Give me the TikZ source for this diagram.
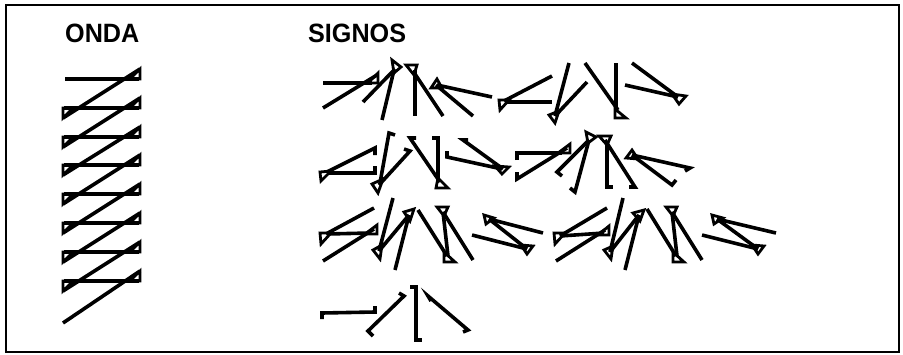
\documentclass[tikz,border=0pt]{standalone}
\usepackage{fontspec}
\setmainfont{Liberation Sans}
\tikzset{
  ln/.style={line width=3.6pt, line join=miter},
  tri/.style={line width=2.8pt, line join=miter},
  lbl/.style={anchor=base west, inner sep=0pt, font=\bfseries\fontsize{26.5}{27}\selectfont, xscale=0.95},
}
\newcommand{\tri}[3]{\draw[tri] #1 -- #2 -- #3 -- cycle;}
\begin{document}
\begin{tikzpicture}[x=1pt,y=-1pt]
\useasboundingbox (0,0) rectangle (903,354);
\draw[line width=2pt] (6,5) rectangle (899,352);
\node[lbl] (onda) at (65,42) {ONDA};
\node[lbl] (signos) at (308,42) {SIGNOS};
% ---------------- ONDA ----------------
\draw[ln] (65,79) -- (139,79);
\tri{(140,69)}{(140,79)}{(130,79)}
\foreach \y in {108,137,165,194,223,252,281}{
  \draw[ln] (64,\y) -- (139,\y);
  \tri{(63,\y)}{(73,\y)}{(63,\y+10)}
  \tri{(140,\y-10)}{(140,\y)}{(130,\y)}
}
\foreach \a/\b in {79/108,108/137,137/165,165/194,194/223,223/252,252/281}{
  \draw[ln] (140,\a-10) -- (63,\b+10);
}
\draw[ln] (140,271) -- (63,323);
% ---------------- Row 1 ----------------
% A+B
\draw[ln] (323,83) -- (372,83);
\tri{(378,73)}{(378,83)}{(368,83)}
\draw[ln] (377,75) -- (323,108);
% C D
\tri{(392,60)}{(401,67)}{(394,73)}
\draw[ln] (395,69) -- (363,102);
\draw[ln] (394,70) -- (382,120);
% E
\tri{(406,65)}{(417,65)}{(414,75)}
\draw[ln] (415,70) -- (415,116);
\draw[ln] (413,71) -- (443,116);
% F
\tri{(437,79)}{(431,88)}{(442,88)}
\draw[ln] (437,85) -- (492,97);
\draw[ln] (436,85) -- (473,116);
% G
\tri{(499,100)}{(509,100)}{(500,110)}
\draw[ln] (506,102) -- (552,102);
\draw[ln] (504,101) -- (552,76);
% H
\tri{(549,115)}{(559,111)}{(555,123)}
\draw[ln] (555,116) -- (587,82);
\draw[ln] (555,116) -- (569,63);
% I
\tri{(615,109)}{(615,118)}{(626,118)}
\draw[ln] (616,63) -- (616,112);
\draw[ln] (585,63) -- (618,110);
% J
\tri{(672,94)}{(686,96)}{(679,104)}
\draw[ln] (625,85) -- (678,97);
\draw[ln] (632,63) -- (678,97);
% ---------------- Row 2 ----------------
% K
\tri{(320,172)}{(331,171)}{(321,181)}
\draw[ln] (327,173) -- (375,173) -- (375,166);
\draw[ln] (327,172) -- (375,148) -- (375,155);
% L
\draw[ln] (395,135) -- (389,133) -- (380,183);
\tri{(372,184)}{(383,179)}{(378,193)}
\draw[ln] (379,185) -- (410,151) -- (404,149);
% M
\draw[ln] (416,138) -- (410,138) -- (440,182);
\draw[ln] (432,138) -- (438,138) -- (438,182);
\tri{(438,178)}{(436,188)}{(448,188)}
% N
\draw[ln] (447,151) -- (447,157) -- (502,169);
\draw[ln] (468,140) -- (463,140) -- (503,169);
\tri{(495,166)}{(509,167)}{(502,174)}
% O
\draw[ln] (517,160) -- (517,153) -- (562,153);
\tri{(570,144)}{(570,153)}{(558,153)}
\draw[ln] (567,148) -- (517,179) -- (517,172);
% P
\tri{(586,132)}{(596,137)}{(588,143)}
\draw[ln] (589,140) -- (557,172) -- (562,176);
\draw[ln] (589,140) -- (575,192) -- (570,188);
% Q
\tri{(599,136)}{(611,136)}{(607,145)}
\draw[ln] (607,141) -- (607,187) -- (613,187);
\draw[ln] (605,140) -- (635,187) -- (629,187);
% R
\tri{(632,150)}{(626,158)}{(638,159)}
\draw[ln] (632,155) -- (690,168) -- (685,171);
\draw[ln] (632,155) -- (672,185) -- (676,180);
% ---------------- Row 3 ----------------
% S
\tri{(320,233)}{(331,233)}{(321,244)}
\tri{(377,225)}{(377,234)}{(365,234)}
\draw[ln] (327,234) -- (370,233);
\draw[ln] (326,234) -- (374,208);
\draw[ln] (374,229) -- (323,261);
% T
\tri{(373,250)}{(382,245)}{(380,259)}
\tri{(404,212)}{(414,209)}{(410,221)}
\draw[ln] (379,251) -- (393,198);
\draw[ln] (379,251) -- (409,215);
\draw[ln] (409,215) -- (395,270);
% U
\tri{(437,207)}{(448,207)}{(444,216)}
\tri{(444,252)}{(444,262)}{(455,262)}
\draw[ln] (443,212) -- (448,256);
\draw[ln] (443,212) -- (473,260);
\draw[ln] (447,256) -- (418,210);
% V
\tri{(484,215)}{(494,218)}{(486,224)}
\tri{(521,245)}{(533,246)}{(527,254)}
\draw[ln] (489,219) -- (527,249);
\draw[ln] (489,219) -- (543,233);
\draw[ln] (527,249) -- (472,235);
% W
\tri{(554,233)}{(565,233)}{(555,244)}
\tri{(609,226)}{(609,235)}{(598,235)}
\draw[ln] (560,236) -- (604,233);
\draw[ln] (560,236) -- (607,208);
\draw[ln] (605,230) -- (556,261);
% X
\tri{(604,250)}{(613,246)}{(611,259)}
\tri{(633,213)}{(644,210)}{(640,221)}
\draw[ln] (610,252) -- (623,198);
\draw[ln] (610,252) -- (639,215);
\draw[ln] (639,215) -- (625,270);
% Y
\tri{(666,207)}{(677,207)}{(673,216)}
\tri{(673,252)}{(673,262)}{(684,262)}
\draw[ln] (672,212) -- (677,256);
\draw[ln] (672,212) -- (702,260);
\draw[ln] (676,256) -- (647,209);
% Z
\tri{(712,215)}{(723,218)}{(714,224)}
\tri{(752,245)}{(764,246)}{(758,254)}
\draw[ln] (717,219) -- (758,249);
\draw[ln] (717,219) -- (776,233);
\draw[ln] (758,249) -- (702,235);
% ---------------- Row 4 ----------------
\draw[ln] (322,319) -- (322,313) -- (375,312) -- (375,306);
\draw[ln] (373,336) -- (368,331) -- (404,296) -- (399,293);
\draw[ln] (410,287) -- (416,287) -- (416,340) -- (422,340);
\draw[ln] (431,301) -- (428,296) -- (468,330) -- (463,332);
\end{tikzpicture}
\end{document}
